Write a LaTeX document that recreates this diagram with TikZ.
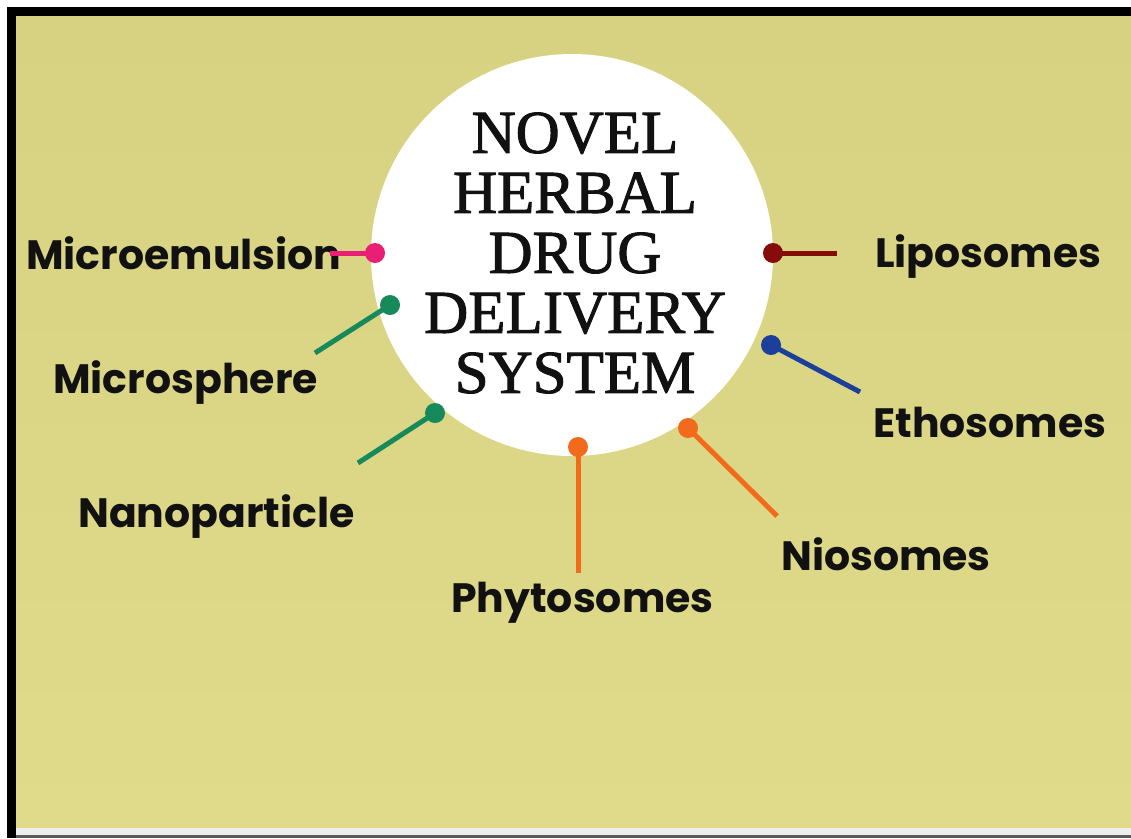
\documentclass[tikz,border=0pt]{standalone}
\usepackage{fontspec}
\setmainfont{Liberation Serif}
\newfontfamily\titlefont[FakeBold=1.6]{Liberation Serif}
\newfontfamily\labfont{Poppins}
\definecolor{bgyel}{HTML}{D7D281}
\definecolor{bgyel2}{HTML}{E0DB8A}
\definecolor{cpink}{HTML}{E91E74}
\definecolor{cgreen}{HTML}{168A5A}
\definecolor{corange}{HTML}{F26A1B}
\definecolor{cblue}{HTML}{1C3F9C}
\definecolor{cdred}{HTML}{860B0B}
\definecolor{txt}{HTML}{111111}
\tikzset{
  lab/.style={anchor=base west, inner sep=0pt, text=txt, font=\labfont\bfseries\fontsize{41}{49}\selectfont},
  dotnode/.style={circle, fill=#1, minimum size=20pt, inner sep=0pt},
  conn/.style={line width=5pt, draw=#1},
}
\begin{document}
\begin{tikzpicture}[x=1pt,y=-1pt]
\useasboundingbox (0,0) rectangle (1131,838);
\fill[white] (0,0) rectangle (1131,838);
\shade[top color=bgyel, bottom color=bgyel2] (16,16) rectangle (1131,828);
\fill[black] (7,7) rectangle (1131,16);
\fill[black] (7,7) rectangle (16,838);
\fill[black!7] (16,828) rectangle (1131,835);
\fill[black!65] (16,835) rectangle (1131,838);

\node[circle, fill=white, minimum size=402pt, inner sep=0pt] (hub) at (572,255) {};
\node[align=center, inner sep=0pt, text=txt, font=\titlefont\fontsize{61}{60}\selectfont] (title) at (575,253)
  {NOVEL\\HERBAL\\DRUG\\DELIVERY\\SYSTEM};

% labels
\node[lab] (me) at (26,269) {Microemulsion};
\node[lab] (li) at (875,267) {Liposomes};
\node[lab] (ms) at (53,393) {Microsphere};
\node[lab] (et) at (873,437) {Ethosomes};
\node[lab] (na) at (78,527) {Nanoparticle};
\node[lab] (ni) at (781,570) {Niosomes};
\node[lab] (ph) at (451,612) {Phytosomes};

% line ends
\coordinate (meE) at (330,253);
\coordinate (liE) at (837,253);
\coordinate (msE) at (315,353);
\coordinate (etE) at (860,392);
\coordinate (naE) at (358,463);
\coordinate (niE) at (777,516);
\coordinate (phE) at (578,573);

% dots
\node[dotnode=cpink] (dme) at (375,253) {};
\node[dotnode=cdred] (dli) at (773,253) {};
\node[dotnode=cgreen] (dms) at (390,305) {};
\node[dotnode=cblue] (det) at (771,345) {};
\node[dotnode=cgreen] (dna) at (435,413) {};
\node[dotnode=corange] (dni) at (688,428) {};
\node[dotnode=corange] (dph) at (578,447) {};

\draw[conn=cpink] (dme.center) -- (meE);
\draw[conn=cdred] (dli.center) -- (liE);
\draw[conn=cgreen] (dms.center) -- (msE);
\draw[conn=cblue] (det.center) -- (etE);
\draw[conn=cgreen] (dna.center) -- (naE);
\draw[conn=corange] (dni.center) -- (niE);
\draw[conn=corange] (dph.center) -- (phE);
\end{tikzpicture}
\end{document}
